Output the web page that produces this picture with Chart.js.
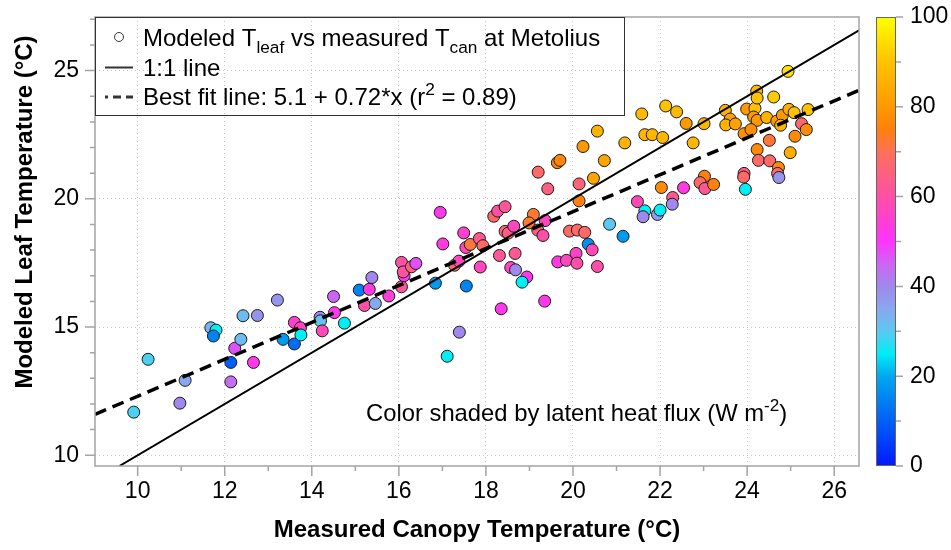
<!DOCTYPE html>
<html>
<head>
<meta charset="utf-8">
<script src="https://cdn.jsdelivr.net/npm/chart.js@4.4.0/dist/chart.umd.min.js"></script>
<style>
  html, body { margin: 0; padding: 0; background: #fff; }
  canvas { display: block; }
</style>
</head>
<body>
<canvas id="leafChart" width="951" height="550"></canvas>
<script>
// measured canopy temperature (°C)
const tCan = [
  9.91, 10.24, 10.97, 11.09, 11.68, 11.80, 11.74, 12.14, 12.14, 12.66,
  12.23, 12.42, 12.75, 12.37, 13.21, 13.34, 13.60, 13.74, 13.60, 13.75,
  14.19, 14.20, 14.24, 14.50, 14.52, 14.75, 15.09, 15.32, 15.38, 15.21,
  15.46, 15.77, 16.06, 16.06, 16.12, 16.10, 16.29, 16.39, 16.84, 17.55,
  17.28, 17.38, 16.95, 17.01, 17.49, 17.54, 17.64, 17.85, 17.93, 17.87,
  17.39, 18.35, 18.31, 18.18, 18.27, 18.44, 18.44, 18.51, 18.64, 18.67,
  18.57, 18.68, 18.94, 18.83, 19.35, 19.09, 18.99, 19.19, 19.31, 19.36,
  19.20, 19.42, 19.64, 19.70, 20.72, 20.47, 20.14, 20.14, 19.92, 20.10,
  20.27, 19.65, 19.85, 20.07, 20.09, 20.35, 20.44, 20.56, 20.84, 21.15,
  21.48, 21.65, 21.61, 21.94, 22.00, 22.03, 22.29, 22.28, 21.58, 22.13,
  22.38, 21.65, 21.82, 22.06, 21.19, 20.56, 20.23, 22.60, 22.76, 23.01,
  23.50, 23.61, 23.51, 23.73, 23.99, 24.18, 24.15, 24.23, 24.22, 24.23,
  23.93, 24.09, 24.45, 24.61, 24.94, 24.68, 24.81, 24.77, 24.96, 25.08,
  25.40, 25.25, 25.36, 25.10, 24.51, 24.99, 24.23, 24.26, 24.52, 24.72,
  24.70, 24.73, 23.93, 23.92, 23.96, 23.02, 22.92, 23.03, 23.23, 22.54,
  17.11
];
// modeled leaf temperature (°C)
const tLeaf = [
  11.68, 13.74, 12.03, 12.92, 14.97, 14.88, 14.65, 13.62, 12.86, 13.62,
  14.17, 15.44, 15.45, 14.52, 16.05, 14.52, 15.18, 14.97, 14.34, 14.69,
  15.38, 15.24, 14.85, 16.19, 15.56, 15.15, 16.44, 16.47, 16.93, 15.84,
  15.92, 16.21, 16.57, 17.52, 17.00, 17.15, 17.35, 17.48, 16.71, 16.60,
  17.41, 17.57, 19.47, 18.24, 18.67, 18.10, 18.22, 18.45, 18.17, 17.34,
  14.80, 15.71, 17.79, 19.32, 19.52, 19.69, 18.73, 18.66, 18.93, 17.87,
  17.32, 17.23, 16.95, 16.75, 16.01, 19.39, 19.06, 18.78, 18.57, 19.15,
  21.04, 20.39, 21.41, 21.50, 21.49, 20.80, 20.58, 19.92, 18.74, 18.78,
  18.69, 17.54, 17.60, 17.87, 17.49, 18.23, 18.01, 17.36, 19.01, 18.54,
  19.89, 19.53, 19.30, 19.39, 19.56, 20.44, 20.05, 19.79, 23.31, 23.62,
  23.39, 22.50, 22.50, 22.39, 22.18, 22.64, 22.04, 22.94, 22.18, 22.93,
  23.45, 23.11, 22.88, 22.92, 23.50, 23.53, 23.19, 23.06, 24.20, 23.93,
  22.54, 22.70, 23.17, 23.97, 24.97, 23.03, 23.26, 22.87, 23.49, 23.36,
  23.48, 22.93, 22.70, 22.44, 22.28, 21.80, 21.92, 21.50, 21.48, 21.22,
  20.99, 20.83, 20.99, 20.85, 20.37, 20.88, 20.63, 20.40, 20.56, 20.43,
  13.86
];
// latent heat flux (W m-2), sets the colour
const latent = [
  29, 29, 40, 35, 33, 25, 15, 10, 44, 52,
  47, 32, 38, 32, 38, 18, 55, 57, 12, 25,
  40, 31, 58, 45, 52, 25, 15, 53, 40, 60,
  35, 54, 62, 60, 52, 61, 65, 47, 18, 15,
  68, 57, 52, 53, 55, 57, 72, 63, 68, 57,
  40, 52, 62, 68, 60, 62, 67, 64, 57, 63,
  57, 40, 52, 25, 52, 73, 73, 65, 60, 57,
  68, 65, 76, 76, 83, 83, 66, 75, 68, 68,
  68, 53, 57, 56, 60, 17, 58, 60, 30, 18,
  58, 25, 40, 37, 25, 77, 63, 40, 88, 90,
  88, 87, 87, 87, 86, 86, 80, 80, 87, 87,
  86, 82, 86, 82, 80, 90, 80, 80, 88, 90,
  78, 78, 86, 92, 95, 80, 80, 86, 85, 90,
  90, 67, 77, 77, 72, 85, 77, 68, 68, 77,
  68, 38, 65, 68, 25, 75, 68, 62, 75, 53,
  25
];

const xTicks = [10, 12, 14, 16, 18, 20, 22, 24, 26];
const yTicks = [10, 15, 20, 25];
const cbarTicks = [0, 20, 40, 60, 80, 100];

// best fit line: 5.1 + 0.72*x
const fitA = 5.1, fitB = 0.72;
const xMin = 9.02, xMax = 26.57, yMin = 9.58, yMax = 27.09;

const cmapStops = [0, 10, 20, 25, 30, 35, 40, 45, 50, 55, 60, 65, 70, 75, 80, 90, 100];
const cmapColors = ['#0019ff', '#0060f5', '#00a8f0', '#00eef5', '#5cc8f2', '#88a8ee', '#a088ec', '#cc66f2',
  '#ff33ff', '#ff3fd0', '#ff4fa6', '#ff6080', '#ff7058', '#ff800c', '#ff9900', '#ffc200', '#ffff00'];

function hex2rgb(h) { return [1, 3, 5].map(i => parseInt(h.substr(i, 2), 16)); }
function cmap(v) {
  v = Math.max(0, Math.min(100, v));
  let i = 0;
  while (i < cmapStops.length - 2 && v > cmapStops[i + 1]) i++;
  const t = (v - cmapStops[i]) / (cmapStops[i + 1] - cmapStops[i]);
  const a = hex2rgb(cmapColors[i]), b = hex2rgb(cmapColors[i + 1]);
  return 'rgb(' + a.map((c, k) => Math.round(c + (b[k] - c) * t)).join(',') + ')';
}

const fam = "'Liberation Sans', Arial, Helvetica, sans-serif";
const axisGray = '#a4a4a4';

function rich(ctx, parts, x, y, size) {
  for (const [txt, kind] of parts) {
    const s = kind ? size * 0.72 : size;
    ctx.font = s + 'px ' + fam;
    const dy = kind === 'sub' ? size * 0.28 : kind === 'sup' ? -size * 0.42 : 0;
    ctx.fillText(txt, x, y + dy);
    x += ctx.measureText(txt).width;
  }
}

const decor = {
  id: 'decor',
  afterDraw(chart) {
    const c = chart.ctx, a = chart.chartArea;
    const sx = chart.scales.x, sy = chart.scales.y;
    c.save();
    // frame
    c.strokeStyle = axisGray;
    c.lineWidth = 1.5;
    c.strokeRect(a.left, a.top, a.right - a.left, a.bottom - a.top);
    // tick marks
    c.beginPath();
    for (let v = 10; v <= 26; v++) {
      const p = sx.getPixelForValue(v);
      c.moveTo(p, a.bottom);
      c.lineTo(p, a.bottom + (v % 2 === 0 ? 10 : 5));
    }
    for (let v = 10; v <= 27; v++) {
      const p = sy.getPixelForValue(v);
      c.moveTo(a.left, p);
      c.lineTo(a.left - (v % 5 === 0 ? 10 : 5), p);
    }
    c.stroke();

    // y title
    c.fillStyle = '#000';
    c.font = 'bold 24px ' + fam;
    c.textAlign = 'center';
    c.textBaseline = 'middle';
    c.save();
    c.translate(25, 212);
    c.rotate(-Math.PI / 2);
    c.fillText('Modeled Leaf Temperature (°C)', 0, 0);
    c.restore();

    // legend
    c.strokeStyle = '#333';
    c.lineWidth = 1;
    c.strokeRect(a.left + 0.5, a.top + 0.5, 529, 98);
    c.beginPath();
    c.arc(119, 37, 4.5, 0, Math.PI * 2);
    c.stroke();
    c.lineWidth = 2;
    c.beginPath();
    c.moveTo(105, 67.5); c.lineTo(133, 67.5);
    c.stroke();
    c.lineWidth = 3;
    c.setLineDash([8, 5]);
    c.lineDashOffset = 5;
    c.beginPath();
    c.moveTo(105, 97); c.lineTo(133, 97);
    c.stroke();
    c.setLineDash([]);
    c.textAlign = 'left';
    c.textBaseline = 'alphabetic';
    rich(c, [['Modeled T'], ['leaf', 'sub'], [' vs measured T'], ['can', 'sub'], [' at Metolius']], 143, 46, 24);
    rich(c, [['1:1 line']], 143, 75.5, 24);
    rich(c, [['Best fit line: 5.1 + 0.72*x (r'], ['2', 'sup'], [' = 0.89)']], 143, 105, 24);

    // annotation
    rich(c, [['Color shaded by latent heat flux (W m'], ['-2', 'sup'], [')']], 366, 421, 23.8);

    // colour bar
    const bx = 876, bw = 20, bt = a.top, bb = a.bottom;
    const g = c.createLinearGradient(0, bb, 0, bt);
    cmapStops.forEach((s, i) => g.addColorStop(s / 100, cmapColors[i]));
    c.fillStyle = g;
    c.fillRect(bx, bt, bw, bb - bt);
    c.strokeStyle = '#666';
    c.lineWidth = 1;
    c.strokeRect(bx + 0.5, bt + 0.5, bw - 1, bb - bt - 1);
    c.strokeStyle = axisGray;
    c.lineWidth = 1.5;
    c.beginPath();
    for (let v = 0; v <= 100; v += 10) {
      const p = bb - (bb - bt) * v / 100;
      c.moveTo(bx + bw, p);
      c.lineTo(bx + bw + (v % 20 === 0 ? 7 : 5), p);
    }
    c.stroke();
    c.fillStyle = '#000';
    c.font = '23px ' + fam;
    c.textBaseline = 'middle';
    cbarTicks.forEach(v => {
      c.fillText(String(v), 910, bb - (bb - bt) * v / 100);
    });
    c.restore();
  }
};

new Chart(document.getElementById('leafChart'), {
  type: 'scatter',
  data: {
    datasets: [
      {
        label: '1:1 line', type: 'line',
        data: [{x: yMin, y: yMin}, {x: xMax, y: xMax}],
        borderColor: '#000', borderWidth: 2, pointRadius: 0, order: 0
      },
      {
        label: 'Best fit line', type: 'line',
        data: [{x: xMin, y: fitA + fitB * xMin}, {x: xMax, y: fitA + fitB * xMax}],
        borderColor: '#000', borderWidth: 3.5, borderDash: [12, 7], pointRadius: 0, order: 0
      },
      {
        label: 'Modeled Tleaf vs measured Tcan',
        data: tCan.map((x, i) => ({x: x, y: tLeaf[i]})),
        backgroundColor: latent.map(cmap),
        borderColor: '#1a1a1a', borderWidth: 1, pointRadius: 6, order: 1
      }
    ]
  },
  options: {
    responsive: false,
    animation: false,
    devicePixelRatio: 1,
    layout: {padding: {left: 0, top: 17, right: 92, bottom: 0}},
    plugins: {legend: {display: false}, tooltip: {enabled: false}},
    scales: {
      x: {
        type: 'linear', min: xMin, max: xMax,
        afterBuildTicks: s => { s.ticks = xTicks.map(v => ({value: v})); },
        afterFit: s => { s.height = 84; s.paddingLeft = 0; s.paddingRight = 0; },
        grid: {color: '#c8c8c8', lineWidth: 1, drawTicks: false},
        border: {display: false, dash: [1, 3]},
        ticks: {font: {family: fam, size: 23}, color: '#000', padding: 12, maxRotation: 0, autoSkip: false},
        title: {
          display: true, text: 'Measured Canopy Temperature (°C)', color: '#000',
          font: {family: fam, size: 24, weight: 'bold'}, padding: {top: 0, bottom: 5}
        }
      },
      y: {
        type: 'linear', min: yMin, max: yMax,
        afterBuildTicks: s => { s.ticks = yTicks.map(v => ({value: v})); },
        afterFit: s => { s.width = 95; s.paddingTop = 0; s.paddingBottom = 0; },
        grid: {color: '#c8c8c8', lineWidth: 1, drawTicks: false},
        border: {display: false, dash: [1, 3]},
        ticks: {font: {family: fam, size: 23}, color: '#000', padding: 16, autoSkip: false}
      }
    }
  },
  plugins: [decor]
});
</script>
</body>
</html>
